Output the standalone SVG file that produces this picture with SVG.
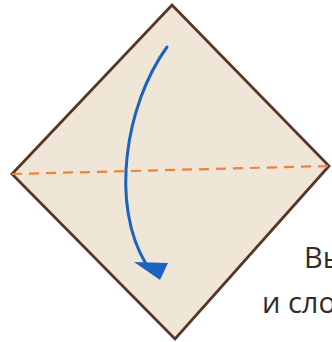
<svg xmlns="http://www.w3.org/2000/svg" width="332" height="342" viewBox="0 0 332 342">
  <style>
    .paper { fill: #F0E6D7; stroke: #573728; stroke-width: 2.8; stroke-linejoin: miter; }
    .fold { stroke: #F08238; stroke-width: 2.2; stroke-dasharray: 10 7; fill: none; }
    .arrow { stroke: #1A63BE; stroke-width: 3; fill: none; stroke-linecap: round; }
    .head { fill: #1A63BE; }
    .txt { font-family: "Open Sans", "Noto Sans", sans-serif; font-size: 29px; fill: #2E2E2E; }
  </style>
  <rect width="332" height="342" fill="#FFFFFF"/>
  <g id="paper">
    <polygon class="paper" points="172,5 329,166 175,339 12,174"/>
  </g>
  <g id="connectors">
    <line class="fold" x1="12" y1="174" x2="329" y2="166"/>
    <path class="arrow" d="M167,47 C125,105 110,205 146,264"/>
    <polygon class="head" points="134,262 168,263 160,280"/>
  </g>
  <g id="caption">
    <text class="txt" x="304" y="268">Вы</text>
    <text class="txt" x="262" y="313">и сло</text>
  </g>
</svg>
